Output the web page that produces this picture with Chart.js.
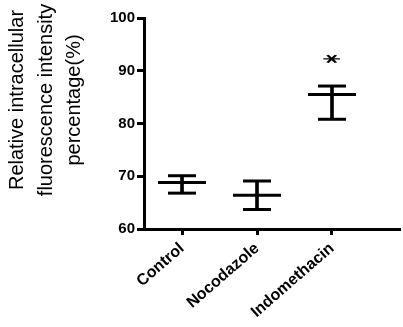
<!DOCTYPE html>
<html>
<head>
<meta charset="utf-8">
<script src="https://cdn.jsdelivr.net/npm/chart.js@4"></script>
<style>
  html, body { margin: 0; padding: 0; background: #fff; }
</style>
</head>
<body>
<canvas id="chart" width="403" height="327"></canvas>
<script>
// du lieu doc tu hinh
const categories = ['Control', 'Nocodazole', 'Indomethacin']
const means = [68.8, 66.4, 85.5]
const upper = [70.1, 69.1, 87.1]
const lower = [66.8, 63.7, 80.8]
const marks = ['', '', '*']
const titleLines = ['Relative intracellular', 'fluorescence intensity', 'percentage(%)']
const yTicks = [60, 70, 80, 90, 100]

const FONT = "'Liberation Sans', Arial, sans-serif"

const pos = categories.map((c, i) => i + 1)

// tieu de truc y, can giua lech len tren nhu hinh goc
const titlePlugin = {
  id: 'yTitle',
  afterDraw(chart) {
    const ctx = chart.ctx
    const baselines = [23, 52, 80]
    ctx.save()
    ctx.fillStyle = '#000'
    ctx.font = '20px ' + FONT
    ctx.textAlign = 'center'
    ctx.textBaseline = 'alphabetic'
    titleLines.forEach((line, i) => {
      ctx.save()
      ctx.translate(baselines[i], 100)
      ctx.rotate(-Math.PI / 2)
      ctx.fillText(line, 0, 0)
      ctx.restore()
    })
    ctx.restore()
  }
}

// dau sao danh dau, xoay ngang va ep det cho giong hinh
const markPlugin = {
  id: 'marks',
  afterDatasetsDraw(chart) {
    const ctx = chart.ctx
    const xs = chart.scales.x
    const ys = chart.scales.y
    ctx.save()
    ctx.fillStyle = '#000'
    ctx.font = "bold 28px 'DejaVu Sans', sans-serif"
    ctx.textAlign = 'left'
    ctx.textBaseline = 'alphabetic'
    marks.forEach((m, i) => {
      if (!m) return
      const mt = ctx.measureText(m)
      const gw = mt.actualBoundingBoxLeft + mt.actualBoundingBoxRight
      const gh = mt.actualBoundingBoxAscent + mt.actualBoundingBoxDescent
      const cx = (mt.actualBoundingBoxRight - mt.actualBoundingBoxLeft) / 2
      const cy = (mt.actualBoundingBoxDescent - mt.actualBoundingBoxAscent) / 2
      const x = xs.getPixelForValue(pos[i])
      const y = ys.getPixelForValue(upper[i]) - 27
      ctx.save()
      ctx.translate(x, y)
      ctx.scale(18 / gh, 9 / gw)
      ctx.rotate(Math.PI / 2)
      ctx.fillText(m, -cx, -cy)
      ctx.restore()
    })
    ctx.restore()
  }
}

new Chart(document.getElementById('chart'), {
  type: 'scatter',
  data: {
    datasets: [
      {
        type: 'bar',
        data: pos.map((x, i) => ({ x: x, y: [lower[i], upper[i]] })),
        backgroundColor: '#000',
        borderWidth: 0,
        barThickness: 3
      },
      {
        data: pos.map((x, i) => ({ x: x, y: means[i] })),
        pointStyle: 'line',
        radius: 24,
        borderWidth: 3,
        borderColor: '#000'
      },
      {
        data: pos.map((x, i) => ({ x: x, y: upper[i] })),
        pointStyle: 'line',
        radius: 14,
        borderWidth: 3,
        borderColor: '#000'
      },
      {
        data: pos.map((x, i) => ({ x: x, y: lower[i] })),
        pointStyle: 'line',
        radius: 14,
        borderWidth: 3,
        borderColor: '#000'
      }
    ]
  },
  options: {
    responsive: false,
    animation: false,
    layout: { autoPadding: false, padding: { left: 0, top: 18, right: 3, bottom: 0 } },
    plugins: {
      legend: { display: false },
      tooltip: { enabled: false }
    },
    scales: {
      x: {
        type: 'linear',
        offset: false,
        min: 0.493,
        max: 3.907,
        afterBuildTicks: (scale) => { scale.ticks = pos.map(v => ({ value: v })) },
        afterFit: (scale) => {
          scale.height = 98
          scale.paddingLeft = 0
          scale.paddingRight = 0
        },
        border: { color: '#000', width: 3 },
        grid: { offset: false, drawOnChartArea: false, drawTicks: true, tickLength: 6, tickWidth: 3, tickColor: '#000', color: '#000' },
        ticks: {
          autoSkip: false,
          minRotation: 41,
          maxRotation: 41,
          padding: 4,
          color: '#000',
          font: { family: FONT, size: 16, weight: 'bold' },
          callback: (v) => categories[v - 1]
        }
      },
      y: {
        min: 60,
        max: 100,
        afterBuildTicks: (scale) => { scale.ticks = yTicks.map(v => ({ value: v })) },
        afterFit: (scale) => { scale.width = 144 },
        border: { color: '#000', width: 3, dash: [195, 13, 300] },
        grid: { drawOnChartArea: false, drawTicks: true, tickLength: 7, tickWidth: 3, tickColor: '#000', color: '#000' },
        ticks: {
          padding: 2,
          color: '#000',
          font: { family: FONT, size: 15, weight: 'bold' }
        }
      }
    }
  },
  plugins: [titlePlugin, markPlugin]
})
</script>
</body>
</html>
